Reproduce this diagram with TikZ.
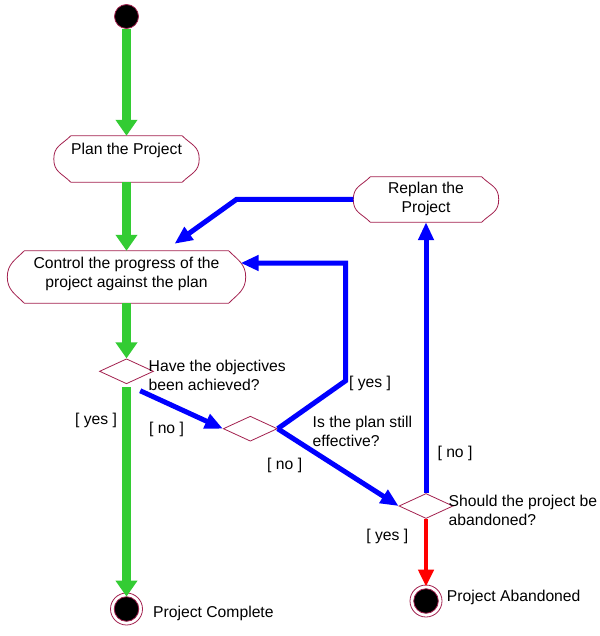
\documentclass[tikz,border=0pt]{standalone}
\usepackage{fontspec}
\setmainfont{Liberation Sans}
\usepackage{xcolor}
\usepackage{tikz}
\usetikzlibrary{arrows.meta,shapes.geometric}
\definecolor{Rim}{HTML}{A3214F}
\definecolor{Go}{HTML}{33CC33}
\definecolor{Loop}{HTML}{0000FF}
\definecolor{Halt}{HTML}{FF0000}

\begin{document}
\begin{tikzpicture}[x=1pt,y=-1pt,font=\fontsize{15.7}{19}\selectfont,
act/.style={minimum height=46pt,inner sep=0pt},
actlabel/.style={anchor=north,align=center,inner sep=0pt,yshift=-6pt},
actline/.style={draw=Rim,line width=.8pt},
choice/.style={diamond,draw=Rim,fill=white,line width=.8pt,minimum width=54pt,minimum height=25pt,inner sep=0pt},
final/.style={circle,draw=Rim,fill=white,line width=.8pt,minimum size=32pt,inner sep=0pt,path picture={\filldraw[draw=Rim,fill=black] (path picture bounding box.center) circle (12.3pt);}},
lbl/.style={inner sep=0pt,align=left},
okline/.style={-{Triangle[length=16pt,width=21pt]},Go,line width=9.5pt},
loopline/.style={-{Triangle[length=18pt,width=15pt]},Loop,line width=5pt},
haltline/.style={-{Triangle[length=17pt,width=15pt]},Halt,line width=4.5pt}]
\fill[white] (0,0) rectangle (599,636);
\useasboundingbox (0,0) rectangle (599,636);
\node[circle,fill=black,draw=Rim,line width=.8pt,minimum size=24pt,inner sep=0pt] (start) at (126.5,16.5) {};
\node[act,minimum width=145pt,label={[actlabel,yshift=-1pt]north:Plan the Project}] (plan) at (126.5,159) {};
\node[act,minimum width=238pt,minimum height=52pt,label={[actlabel]north:Control the progress of the\\project against the plan}] (ctrl) at (126.5,277) {};
\node[act,minimum width=145pt,minimum height=45pt,label={[actlabel,yshift=1pt]north:Replan the\\Project}] (replan) at (426,199.5) {};
\foreach \n in {plan,ctrl,replan}
  \draw[actline] ([xshift=17pt]\n.north west) -- ([xshift=-17pt]\n.north east) .. controls +(9,9) and +(0,-13) .. (\n.east) .. controls +(0,13) and +(9,-9) .. ([xshift=-17pt]\n.south east) -- ([xshift=17pt]\n.south west) .. controls +(-9,-9) and +(0,13) .. (\n.west) .. controls +(0,-13) and +(-9,9) .. ([xshift=17pt]\n.north west) -- cycle;
\node[choice] (achieved) at (126.5,371.3) {};
\node[choice] (effective) at (250.3,428.7) {};
\node[choice] (abandon) at (426,506) {};
\node[final] (done) at (126.5,609) {};
\node[final] (quit) at (426,601) {};
\node[lbl,anchor=west] (qachieved) at (148.5,375.5) {Have the objectives\\been achieved?};
\node[lbl,anchor=west] (qeffective) at (312.5,431) {Is the plan still\\effective?};
\node[lbl,anchor=west] (qabandon) at (448.5,510.5) {Should the project be\\abandoned?};
\node[lbl] (yesdone) at (96,420) {[ yes ]};
\node[lbl] (nocheck) at (166.5,429.3) {[ no ]};
\node[lbl] (yeskeep) at (370,383.3) {[ yes ]};
\node[lbl] (nokeep) at (284.7,465) {[ no ]};
\node[lbl] (noreplan) at (455,453.3) {[ no ]};
\node[lbl] (yesquit) at (387.3,536.7) {[ yes ]};
\node[lbl,anchor=west] (tdone) at (153,613) {Project Complete};
\node[lbl,anchor=west] (tquit) at (446.7,597) {Project Abandoned};
\draw[okline] (start) -- (plan);
\draw[okline] (plan) -- (ctrl);
\draw[okline] (ctrl) -- (achieved);
\draw[okline,shorten <=3pt,shorten >=-4pt] (achieved) -- (done);
\draw[loopline] ([yshift=-13pt]achieved.south east) -- (effective.west);
\draw[loopline] (effective.east) -- ++(68,-48) |- ([xshift=-5pt,yshift=14pt]ctrl.east);
\draw[loopline] (effective.east) -- (abandon.west);
\draw[loopline] (abandon) -- (replan);
\draw[loopline] (replan.west) -- ++(-117,0) -- ([xshift=48pt,yshift=7pt]ctrl.north);
\draw[haltline,shorten >=-2pt] (abandon) -- (quit);
\end{tikzpicture}
\end{document}
